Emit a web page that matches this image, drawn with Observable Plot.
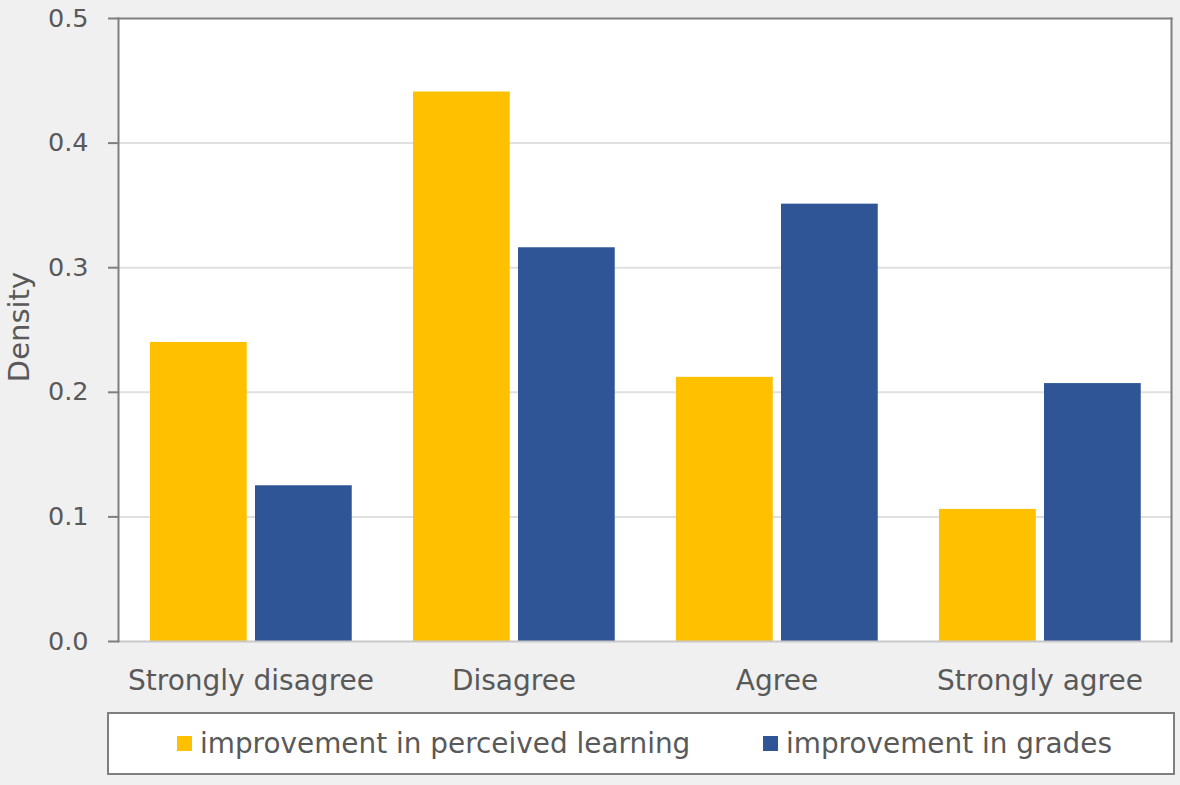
<!DOCTYPE html>
<html>
<head>
<meta charset="utf-8">
<script src="https://cdn.jsdelivr.net/npm/d3@7"></script>
<script src="https://cdn.jsdelivr.net/npm/@observablehq/plot@0.6"></script>
<style>
  html, body { margin: 0; padding: 0; background: #f0f0f0; }
  #wrap { position: relative; width: 1180px; height: 785px; overflow: hidden; font-family: "DejaVu Sans", sans-serif; }
  #chart { position: absolute; left: 0; top: 0; }
  #legend {
    position: absolute; left: 107px; top: 712px; width: 1064px; height: 59px;
    border: 2px solid #7f7f7f; background: #fff;
    color: #595959; font-size: 27.9px;
  }
  .item { display: flex; align-items: center; position: absolute; top: 0; height: 59px; }
  .sw { width: 15px; height: 15px; margin-right: 8px; }
</style>
</head>
<body>
<div id="wrap">
  <div id="chart"></div>
  <div id="legend"></div>
</div>
<script>
const categories = ["Strongly disagree", "Disagree", "Agree", "Strongly agree"];
const seriesNames = ["improvement in perceived learning", "improvement in grades"];
const perceivedLearning = [0.240, 0.441, 0.212, 0.106];
const grades = [0.125, 0.316, 0.351, 0.207];
const yTicks = [0, 0.1, 0.2, 0.3, 0.4, 0.5];
const colors = ["#FFC000", "#2F5597"];

const data1 = categories.map((c, i) => ({cat: c, v: perceivedLearning[i]}));
const data2 = categories.map((c, i) => ({cat: c, v: grades[i]}));

const W = 1180, H = 705;
const mL = 118, mR = 9, mT = 18, mB = H - 641;
const band = (W - mL - mR) / categories.length;
const outer = 31, barW = 97, gap = 8;

const plot = Plot.plot({
  width: W, height: H,
  marginLeft: mL, marginRight: mR, marginTop: mT, marginBottom: mB,
  style: {background: "transparent", fontFamily: "DejaVu Sans, sans-serif", fontSize: "25px", color: "#595959"},
  x: {domain: categories, padding: 0, label: null},
  y: {domain: [0, 0.5], label: null},
  marks: [
    Plot.frame({fill: "#fff", stroke: null}),
    Plot.gridY({ticks: [0.1, 0.2, 0.3, 0.4], stroke: "#e0e0e0", strokeOpacity: 1, strokeWidth: 2}),
    Plot.barY(data1, {x: "cat", y: "v", fill: colors[0], insetLeft: outer, insetRight: band - outer - barW}),
    Plot.barY(data2, {x: "cat", y: "v", fill: colors[1], insetLeft: outer + barW + gap, insetRight: band - outer - 2 * barW - gap}),
    Plot.ruleY([0], {stroke: "#c8c8c8", strokeWidth: 2}),
    Plot.frame({anchor: "top", stroke: "#7f7f7f", strokeWidth: 2}),
    Plot.frame({anchor: "right", stroke: "#7f7f7f", strokeWidth: 2}),
    Plot.frame({anchor: "left", stroke: "#7f7f7f", strokeWidth: 2}),
    Plot.axisY({ticks: yTicks, tickFormat: d3.format(".1f"), tickSize: 10, tickPadding: 20, stroke: "#7f7f7f", strokeWidth: 2, fontSize: 25.5, fill: "#595959", label: null}),
    Plot.axisX({tickSize: 0, tickPadding: 29, fontSize: 28, fill: "#595959", label: null}),
    Plot.text(["Density"], {frameAnchor: "left", textAnchor: "middle", rotate: -90, dx: -99, dy: -3, fontSize: 29, fill: "#595959"})
  ]
});
document.getElementById("chart").appendChild(plot);

const legend = document.getElementById("legend");
const lx = [68, 654];
seriesNames.forEach((name, i) => {
  const it = document.createElement("div");
  it.className = "item";
  it.style.left = lx[i] + "px";
  const sw = document.createElement("span");
  sw.className = "sw";
  sw.style.background = colors[i];
  const t = document.createElement("span");
  t.textContent = name;
  it.appendChild(sw); it.appendChild(t);
  legend.appendChild(it);
});
</script>
</body>
</html>
